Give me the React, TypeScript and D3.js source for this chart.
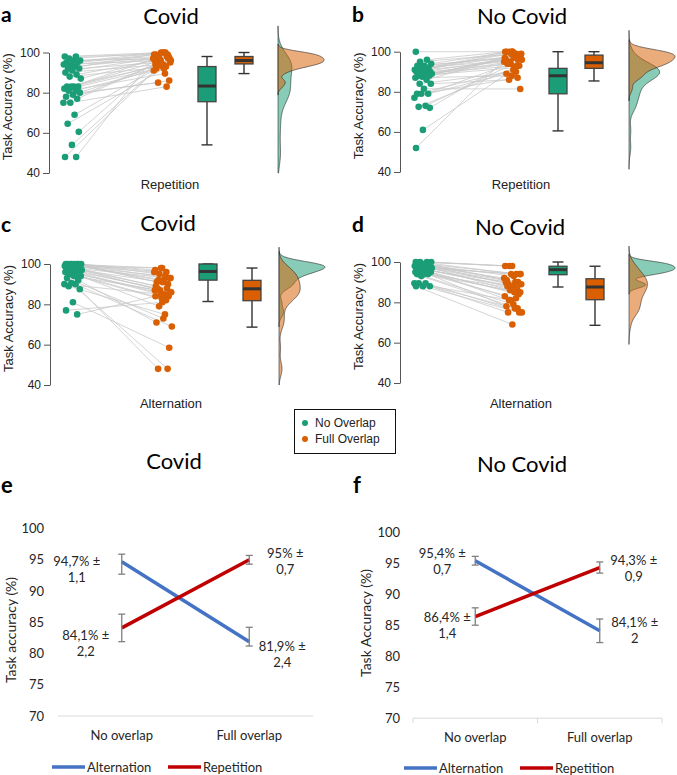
import { useRef, useEffect } from 'react'
import * as d3 from 'd3'

// ---- raincloud panels: task accuracy (%) per participant, paired by index
const covidRepNoOverlap = [98, 98, 97, 96, 96, 95, 95, 94, 94, 93, 92, 92, 91, 90, 89, 88, 87, 83, 83, 83, 83, 82, 81, 81, 80, 79, 78, 77, 75, 75, 69, 64.5, 60.5, 54, 48, 48]
const covidRepFullOverlap = [100, 99, 100, 98, 97, 100, 99, 98, 96, 97, 100, 95, 98, 94, 96, 93, 97, 95, 94, 92, 99, 96, 91, 89.5, 85, 86, 93, 94, 83, 95, 96, 92, 95, 97, 94, 98]
const noCovidRepNoOverlap = [100, 96, 95, 94, 93, 93, 92, 92, 91, 91, 91, 90, 90, 90, 89, 89, 89, 88, 88, 88, 87.5, 87, 86, 84, 84, 81.5, 79, 79, 79, 77, 73, 72.5, 72, 61, 52]
const noCovidRepFullOverlap = [100, 100, 99, 100, 98, 97, 100, 96, 99, 95, 98, 94, 97, 100, 96, 93, 95, 99, 92, 94, 98, 88, 97, 90, 86, 81.4, 91, 89, 87, 94, 96, 92, 95, 93, 100]
const covidAltNoOverlap = [100, 100, 100, 100, 100, 100, 100, 100, 99, 99, 99, 99, 98, 98, 98, 98, 97, 97, 97, 96, 96, 96, 95, 95, 94, 94, 93, 92, 90.5, 90, 90, 89, 87.5, 81, 77, 75]
const covidAltFullOverlap = [98, 97, 96, 95, 93, 92, 91, 90, 98, 96, 94, 92, 93, 91, 89, 88, 87, 86, 85, 88, 84, 83, 87, 82, 79, 86, 73, 71, 48, 85, 69, 75, 48, 58.5, 81, 84]
const noCovidAltNoOverlap = [100, 100, 100, 100, 99, 99, 99, 99, 98, 98, 98, 98, 97, 97, 97, 97, 97, 96, 96, 96, 96, 95, 95, 95, 95, 94, 94, 94, 93, 89.5, 89.5, 89.5, 88, 88, 88]
const noCovidAltFullOverlap = [98, 98, 94, 98, 94, 93, 91, 90, 94, 92, 90, 89, 94, 88, 90, 87, 86, 89, 85, 88, 84, 87, 83, 82, 81, 85, 79, 78, 77, 81, 75, 77, 75, 75, 69]

// box stats: [lower whisker, q1, median, q3, upper whisker]
const covidRepNoBox = [54, 75.5, 83.3, 93, 98]
const covidRepFullBox = [89.5, 94.3, 96, 98, 100]
const noCovidRepNoBox = [60.5, 79, 88, 91.7, 100]
const noCovidRepFullBox = [85.4, 91.7, 94.5, 98.3, 100]
const covidAltNoBox = [81.4, 92, 96.3, 100, 100]
const covidAltFullBox = [68.7, 81.8, 87.7, 91.9, 98]
const noCovidAltNoBox = [87.6, 93.7, 96.2, 97.9, 100]
const noCovidAltFullBox = [68.6, 81.3, 87.6, 91.7, 97.9]

const rainTicks = [40, 60, 80, 100]
const overlapLegend = ['No Overlap', 'Full Overlap']

// ---- line panels (e, f)
const conditions = ['No overlap', 'Full overlap']
const seriesNames = ['Alternation', 'Repetition']
const accuracyTicks = [70, 75, 80, 85, 90, 95, 100]
const covidAlternation = [94.7, 81.9]
const covidRepetition = [84.1, 95]
const covidAlternationBars = [[92.7, 95.9], [81.2, 84.2]]
const covidRepetitionBars = [[81.9, 86.3], [94.3, 95.7]]
const covidAlternationLabels = [['94,7% ±', '1,1'], ['81,9% ±', '2,4']]
const covidRepetitionLabels = [['84,1% ±', '2,2'], ['95% ±', '0,7']]
const noCovidAlternation = [95.4, 84.1]
const noCovidRepetition = [86.4, 94.3]
const noCovidAlternationBars = [[94.7, 96.1], [82.2, 86.0]]
const noCovidRepetitionBars = [[85.0, 87.8], [93.4, 95.2]]
const noCovidAlternationLabels = [['95,4% ±', '0,7'], ['84,1% ±', '2']]
const noCovidRepetitionLabels = [['86,4% ±', '1,4'], ['94,3% ±', '0,9']]

const GREEN = '#1b9e77'
const ORANGE = '#d95f02'
const BLUE = '#4472c4'
const RED = '#c00000'
const ARIAL = "'Liberation Sans', Arial, sans-serif"
const CALIBRI = "Lato, 'Noto Sans', sans-serif"

type Sel = d3.Selection<SVGSVGElement, unknown, null, undefined>

interface RainPanel {
  letter: string
  letterX: number
  letterY: number
  title: string
  titleX: number
  titleY: number
  xLabel: string
  xLabelY: number
  axisX: number
  y100: number
  y40: number
  fullBoxDx: number
  noOverlap: number[]
  fullOverlap: number[]
  noBox: number[]
  fullBox: number[]
}

function kde(values: number[]) {
  const s = values.slice().sort(d3.ascending)
  const sd = d3.deviation(s) ?? 1
  const iqr = ((d3.quantileSorted(s, 0.75) ?? 0) - (d3.quantileSorted(s, 0.25) ?? 0)) / 1.34
  const bw = 0.9 * Math.min(sd, iqr || sd) * Math.pow(s.length, -0.2)
  const lo = Math.max(40, s[0] - 3 * bw)
  const hi = s[s.length - 1] + 3 * bw
  return d3.range(0, 201).map((k) => {
    const v = lo + ((hi - lo) * k) / 200
    const d = d3.mean(s, (x) => Math.exp(-0.5 * ((v - x) / bw) ** 2))! / (bw * Math.sqrt(2 * Math.PI))
    return [v, d] as [number, number]
  })
}

const jitter = (i: number, phase: number) => ((((i * 0.618034 + phase) % 1) * 2 - 1) * 9)

function drawRain(svg: Sel, p: RainPanel) {
  const y = d3.scaleLinear().domain([40, 100]).range([p.y40, p.y100])
  const g = svg.append('g')

  // letter + title
  g.append('text').attr('x', p.letterX).attr('y', p.letterY).attr('font-family', CALIBRI)
    .attr('font-weight', 700).attr('font-size', 21).text(p.letter)
  g.append('text').attr('x', p.titleX).attr('y', p.titleY).attr('text-anchor', 'middle')
    .attr('font-family', CALIBRI).attr('font-size', 22).text(p.title)

  // y axis
  g.append('g')
    .attr('transform', `translate(${p.axisX},0)`)
    .call(d3.axisLeft(y).tickValues(rainTicks).tickSize(6).tickSizeOuter(0).tickPadding(3))
    .call((a) => {
      a.select('.domain').attr('stroke', '#555')
      a.selectAll('.tick line').attr('stroke', '#555')
      a.selectAll('.tick text').attr('fill', '#222').attr('font-size', 12).attr('font-family', ARIAL)
    })
  g.append('text')
    .attr('transform', `translate(${p.axisX - 42},${(p.y40 + p.y100) / 2 - 6}) rotate(-90)`)
    .attr('text-anchor', 'middle').attr('dominant-baseline', 'central')
    .attr('font-family', ARIAL).attr('font-size', 13).attr('fill', '#222')
    .text('Task Accuracy (%)')
  g.append('text').attr('x', p.axisX + 121).attr('y', p.xLabelY).attr('text-anchor', 'middle')
    .attr('font-family', ARIAL).attr('font-size', 13).attr('fill', '#222').text(p.xLabel)

  const gx = (i: number) => p.axisX + 23 + jitter(i, 0.1)
  const ox = (i: number) => p.axisX + 113 + jitter(i, 0.45)

  // paired lines
  g.append('g').selectAll('line').data(p.noOverlap).join('line')
    .attr('x1', (_, i) => gx(i)).attr('y1', (d) => y(d))
    .attr('x2', (_, i) => ox(i)).attr('y2', (_, i) => y(p.fullOverlap[i]))
    .attr('stroke', '#c9c9c9').attr('stroke-width', 0.8)

  g.append('g').selectAll('circle').data(p.noOverlap).join('circle')
    .attr('cx', (_, i) => gx(i)).attr('cy', (d) => y(d)).attr('r', 3.3).attr('fill', GREEN)
  g.append('g').selectAll('circle').data(p.fullOverlap).join('circle')
    .attr('cx', (_, i) => ox(i)).attr('cy', (d) => y(d)).attr('r', 3.3).attr('fill', ORANGE)

  // boxes
  const box = (cx: number, st: number[], fill: string) => {
    const w = 18
    const bg = g.append('g')
    bg.append('line').attr('x1', cx).attr('x2', cx).attr('y1', y(st[0])).attr('y2', y(st[4]))
      .attr('stroke', '#333').attr('stroke-width', 1.4)
    ;[st[0], st[4]].forEach((v) => {
      bg.append('line').attr('x1', cx - 5.5).attr('x2', cx + 5.5).attr('y1', y(v)).attr('y2', y(v))
        .attr('stroke', '#333').attr('stroke-width', 1.4)
    })
    bg.append('rect').attr('x', cx - w / 2).attr('width', w).attr('y', y(st[3]))
      .attr('height', y(st[1]) - y(st[3])).attr('fill', fill).attr('stroke', '#444').attr('stroke-width', 1.3)
    bg.append('line').attr('x1', cx - w / 2).attr('x2', cx + w / 2).attr('y1', y(st[2])).attr('y2', y(st[2]))
      .attr('stroke', '#333').attr('stroke-width', 3)
  }
  box(p.axisX + 158, p.noBox, GREEN)
  box(p.axisX + p.fullBoxDx, p.fullBox, ORANGE)

  // half violins
  const base = p.axisX + 229
  const dens = [kde(p.noOverlap), kde(p.fullOverlap)]
  const maxD = d3.max(dens.flat(), (d) => d[1])!
  const wx = d3.scaleLinear().domain([0, maxD]).range([base, base + 46])
  const area = d3.area<[number, number]>().y((d) => y(d[0])).x0(base).x1((d) => wx(d[1])).curve(d3.curveBasis)
  dens.forEach((d, k) => {
    g.append('path').datum(d).attr('d', area)
      .attr('fill', k === 0 ? GREEN : ORANGE).attr('fill-opacity', 0.52)
      .attr('stroke', '#222').attr('stroke-width', 0.6)
  })
}

interface LinePanel {
  letter: string
  letterX: number
  title: string
  titleX: number
  titleY: number
  left: number
  right: number
  y70: number
  y95: number
  tickRight: number
  yLabel: string
  yLabelX: number
  yLabelY: number
  catY: number
  legendY: number
  legendX: number[]
  boundaryTicks: boolean
  values: number[][]
  bars: number[][][]
  labels: string[][][]
  labelPos: number[][][]
}

function drawLines(svg: Sel, p: LinePanel) {
  const g = svg.append('g')
  const y = d3.scaleLinear().domain([70, 95]).range([p.y70, p.y95])
  const x = d3.scaleBand<string>().domain(conditions).range([p.left, p.right])
  const cx = (c: string) => x(c)! + x.bandwidth() / 2

  g.append('text').attr('x', p.letterX).attr('y', 493).attr('font-family', CALIBRI)
    .attr('font-weight', 700).attr('font-size', 22).text(p.letter)
  g.append('text').attr('x', p.titleX).attr('y', p.titleY).attr('text-anchor', 'middle')
    .attr('font-family', CALIBRI).attr('font-size', 22).text(p.title)

  g.append('g')
    .attr('transform', `translate(${p.tickRight},0)`)
    .call(d3.axisLeft(y).tickValues(accuracyTicks).tickSize(0).tickPadding(0))
    .call((a) => {
      a.select('.domain').remove()
      a.selectAll('.tick text').attr('fill', '#262626').attr('font-size', 13).attr('font-family', CALIBRI)
    })

  g.append('line').attr('x1', p.left).attr('x2', p.right).attr('y1', p.y70).attr('y2', p.y70)
    .attr('stroke', '#d9d9d9').attr('stroke-width', 1)
  if (p.boundaryTicks) {
    const edges = [...conditions.map((c) => x(c)!), p.right]
    g.selectAll('.bt').data(edges).join('line').attr('class', 'bt')
      .attr('x1', (d) => d).attr('x2', (d) => d).attr('y1', p.y70).attr('y2', p.y70 + 5)
      .attr('stroke', '#d9d9d9')
  }
  g.selectAll('.cat').data(conditions).join('text').attr('class', 'cat')
    .attr('x', (d) => cx(d)).attr('y', p.catY).attr('text-anchor', 'middle')
    .attr('dominant-baseline', 'central').attr('font-family', CALIBRI).attr('font-size', 13)
    .attr('fill', '#262626').text((d) => d)

  g.append('text')
    .attr('transform', `translate(${p.yLabelX},${p.yLabelY}) rotate(-90)`)
    .attr('text-anchor', 'middle').attr('dominant-baseline', 'central')
    .attr('font-family', CALIBRI).attr('font-size', 14).attr('fill', '#262626').text(p.yLabel)

  const colors = [BLUE, RED]
  const line = d3.line<number>().x((_, i) => cx(conditions[i])).y((d) => y(d))
  p.values.forEach((vals, s) => {
    const sg = g.append('g')
    sg.append('path').datum(vals).attr('d', line).attr('fill', 'none')
      .attr('stroke', colors[s]).attr('stroke-width', 3.5)
    p.bars[s].forEach((b, i) => {
      const bx = cx(conditions[i])
      sg.append('line').attr('x1', bx).attr('x2', bx).attr('y1', y(b[0])).attr('y2', y(b[1]))
        .attr('stroke', '#7f7f7f').attr('stroke-width', 1.3)
      b.forEach((v) => {
        sg.append('line').attr('x1', bx - 3.5).attr('x2', bx + 3.5).attr('y1', y(v)).attr('y2', y(v))
          .attr('stroke', '#7f7f7f').attr('stroke-width', 1.3)
      })
    })
    p.labels[s].forEach((lines, i) => {
      const [dx, dy] = p.labelPos[s][i]
      lines.forEach((t, k) => {
        sg.append('text').attr('x', cx(conditions[i]) + dx).attr('y', y(vals[i]) + dy + k * 16)
          .attr('text-anchor', 'middle').attr('dominant-baseline', 'central')
          .attr('font-family', CALIBRI).attr('font-size', 13).attr('fill', '#262626').text(t)
      })
    })
  })

  // legend
  seriesNames.forEach((name, s) => {
    const lx = p.legendX[s]
    g.append('line').attr('x1', lx).attr('x2', lx + 33).attr('y1', p.legendY).attr('y2', p.legendY)
      .attr('stroke', colors[s]).attr('stroke-width', 3.5)
    g.append('text').attr('x', lx + 35).attr('y', p.legendY).attr('dominant-baseline', 'central')
      .attr('font-family', CALIBRI).attr('font-size', 13).attr('fill', '#262626').text(name)
  })
}

export default function App() {
  const svgRef = useRef<SVGSVGElement>(null)

  useEffect(() => {
    if (!svgRef.current) return
    const svg = d3.select(svgRef.current)
    svg.selectAll('*').remove()

    const panels: RainPanel[] = [
      { letter: 'a', letterX: 1, letterY: 21.5, title: 'Covid', titleX: 171, titleY: 23.5, xLabel: 'Repetition', xLabelY: 189,
        axisX: 49, y100: 52.5, y40: 173, fullBoxDx: 195,
        noOverlap: covidRepNoOverlap, fullOverlap: covidRepFullOverlap, noBox: covidRepNoBox, fullBox: covidRepFullBox },
      { letter: 'b', letterX: 352, letterY: 21.5, title: 'No Covid', titleX: 522, titleY: 23.5, xLabel: 'Repetition', xLabelY: 189,
        axisX: 400, y100: 51.7, y40: 172, fullBoxDx: 194,
        noOverlap: noCovidRepNoOverlap, fullOverlap: noCovidRepFullOverlap, noBox: noCovidRepNoBox, fullBox: noCovidRepFullBox },
      { letter: 'c', letterX: 1, letterY: 232, title: 'Covid', titleX: 168, titleY: 231, xLabel: 'Alternation', xLabelY: 408,
        axisX: 50, y100: 264, y40: 385, fullBoxDx: 202,
        noOverlap: covidAltNoOverlap, fullOverlap: covidAltFullOverlap, noBox: covidAltNoBox, fullBox: covidAltFullBox },
      { letter: 'd', letterX: 352, letterY: 232, title: 'No Covid', titleX: 520, titleY: 235, xLabel: 'Alternation', xLabelY: 408,
        axisX: 400, y100: 262, y40: 383, fullBoxDx: 195,
        noOverlap: noCovidAltNoOverlap, fullOverlap: noCovidAltFullOverlap, noBox: noCovidAltNoBox, fullBox: noCovidAltFullBox },
    ]
    panels.forEach((p) => drawRain(svg, p))

    // overlap legend
    const lg = svg.append('g')
    lg.append('rect').attr('x', 294.5).attr('y', 409.5).attr('width', 101).attr('height', 44)
      .attr('fill', '#fff').attr('stroke', '#111').attr('stroke-width', 1)
    overlapLegend.forEach((name, i) => {
      const ly = 423 + i * 16
      lg.append('circle').attr('cx', 305).attr('cy', ly).attr('r', 3).attr('fill', i === 0 ? GREEN : ORANGE)
      lg.append('text').attr('x', 315).attr('y', ly).attr('dominant-baseline', 'central')
        .attr('font-family', ARIAL).attr('font-size', 12).attr('fill', '#222').text(name)
    })

    drawLines(svg, {
      letter: 'e', letterX: 1, title: 'Covid', titleX: 174, titleY: 469, left: 58, right: 313,
      y70: 716, y95: 559.8, tickRight: 44, yLabel: 'Task accuracy (%)', yLabelX: 10, yLabelY: 630,
      catY: 735, legendY: 767, legendX: [52, 168], boundaryTicks: false,
      values: [covidAlternation, covidRepetition],
      bars: [covidAlternationBars, covidRepetitionBars],
      labels: [covidAlternationLabels, covidRepetitionLabels],
      labelPos: [[[-45, -1], [33, 4]], [[-36, 7], [36, -7]]],
    })
    drawLines(svg, {
      letter: 'f', letterX: 353, title: 'No Covid', titleX: 522, titleY: 472, left: 413, right: 662,
      y70: 718.2, y95: 563.2, tickRight: 400, yLabel: 'Task Accuracy (%)', yLabelX: 365, yLabelY: 623,
      catY: 737, legendY: 768, legendX: [404, 520], boundaryTicks: true,
      values: [noCovidAlternation, noCovidRepetition],
      bars: [noCovidAlternationBars, noCovidRepetitionBars],
      labels: [noCovidAlternationLabels, noCovidRepetitionLabels],
      labelPos: [[[-33, -8], [35, -9]], [[-28, 0], [34, -7.5]]],
    })
  }, [])

  return (
    <svg
      ref={svgRef}
      width={677}
      height={775}
      style={{ position: 'absolute', left: 0, top: 0, background: '#fff' }}
    />
  )
}
